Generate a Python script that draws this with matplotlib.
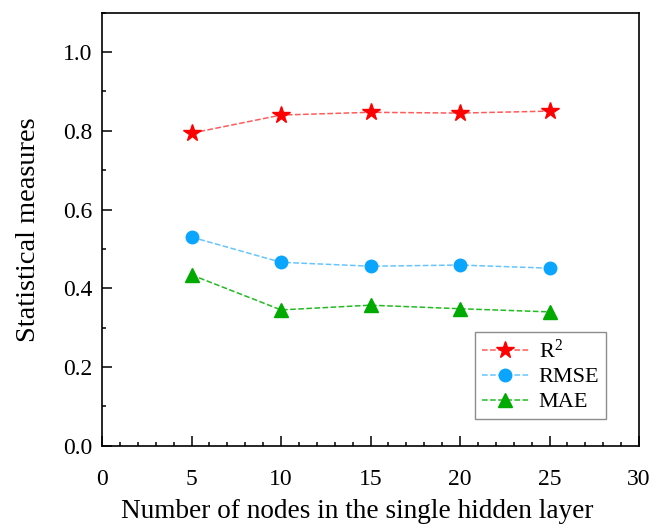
import matplotlib
matplotlib.use("Agg")
import matplotlib.pyplot as plt
from matplotlib.ticker import MultipleLocator, FormatStrFormatter

nodes = [5, 10, 15, 20, 25]
r2 = [0.794, 0.840, 0.847, 0.845, 0.850]
rmse = [0.530, 0.466, 0.456, 0.459, 0.451]
mae = [0.434, 0.345, 0.357, 0.348, 0.340]

plt.rcParams['font.family'] = ['Liberation Serif', 'DejaVu Serif']
plt.rcParams['mathtext.fontset'] = 'custom'
plt.rcParams['mathtext.rm'] = 'Liberation Serif'
plt.rcParams['mathtext.it'] = 'Liberation Serif:italic'

fig = plt.figure(figsize=(6.65, 5.25), dpi=100)
ax = fig.add_axes([0.1534, 0.151, 0.8076, 0.8248])

ax.plot(nodes, r2, linestyle='--', color='#ff5a5a', lw=1.1, marker='*',
        markersize=13, markerfacecolor='#ff0000', markeredgecolor='#ff0000', label='R$^2$')
ax.plot(nodes, rmse, linestyle='--', color='#66c4ff', lw=1.1, marker='o',
        markersize=9, markerfacecolor='#0aa5ff', markeredgecolor='#0aa5ff', label='RMSE')
ax.plot(nodes, mae, linestyle='--', color='#22bb22', lw=1.1, marker='^',
        markersize=10, markerfacecolor='#00aa00', markeredgecolor='#00aa00', label='MAE')

ax.set_xlim(0, 30)
ax.set_ylim(0, 1.1)
ax.xaxis.set_major_locator(MultipleLocator(5))
ax.xaxis.set_minor_locator(MultipleLocator(1))
ax.yaxis.set_major_locator(MultipleLocator(0.2))
ax.yaxis.set_minor_locator(MultipleLocator(0.1))
ax.yaxis.set_major_formatter(FormatStrFormatter('%.1f'))

ax.tick_params(which='both', direction='in', top=False, right=False, labelsize=17, width=1.1)
ax.tick_params(which='major', length=7)
ax.tick_params(which='minor', length=3.2)
ax.tick_params(axis='x', which='major', pad=17)
ax.tick_params(axis='y', which='major', pad=7)
for s in ax.spines.values():
    s.set_linewidth(1.2)

ax.set_xlabel('Number of nodes in the single hidden layer', fontsize=19.6)
ax.set_ylabel('Statistical measures', fontsize=20.5)
ax.xaxis.set_label_coords(0.475, -0.123)
ax.yaxis.set_label_coords(-0.1136, 0.5)

leg = ax.legend(loc='lower right', bbox_to_anchor=(0.9385, 0.0617), borderaxespad=0,
                fontsize=16, fancybox=False, edgecolor='#8c8c8c', framealpha=1,
                handlelength=2.1, handletextpad=0.45, borderpad=0.3, labelspacing=0.2)
leg.get_frame().set_linewidth(1.0)

fig.savefig('out.png', dpi=100)
